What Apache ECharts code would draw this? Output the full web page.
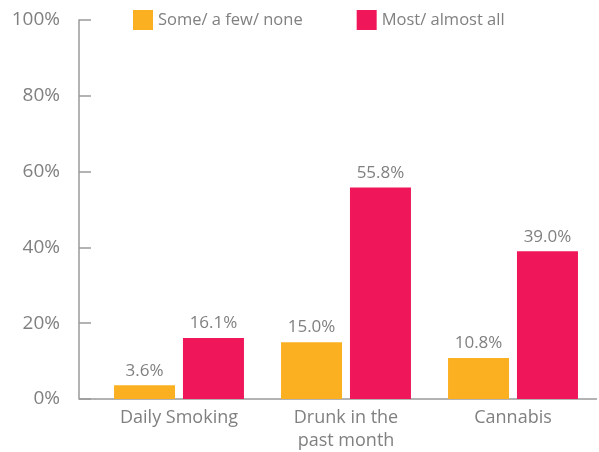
<!DOCTYPE html>
<html>
<head>
<meta charset="utf-8">
<script src="https://cdn.jsdelivr.net/npm/echarts@6/dist/echarts.min.js"></script>
<style>
  html, body { margin: 0; padding: 0; background: #fff; }
  #chart { width: 599px; height: 452px; }
</style>
</head>
<body>
<div id="chart"></div>
<script>
// Share of young people by how many of their friends do the same
const categories = ['Daily Smoking', 'Drunk in the\npast month', 'Cannabis'];
const seriesNames = ['Some/ a few/ none', 'Most/ almost all'];
const someFewNone = [3.6, 15.0, 10.8];
const mostAlmostAll = [16.1, 55.8, 39.0];
const yTicks = [0, 20, 40, 60, 80, 100];

const FONT = 'Open Sans';
const TEXT = '#808080';
const AXIS = '#9a9a9a';
const GRID_LEFT = 95.5;
const GRID_RIGHT = 2.5;
const AXIS_OFFSET = 16.5;

const chart = echarts.init(document.getElementById('chart'));

const labelStyle = {
  show: true,
  position: 'top',
  distance: 6,
  color: TEXT,
  fontFamily: FONT,
  fontSize: 17,
  formatter: p => p.value.toFixed(1) + '%'
};

chart.setOption({
  animation: false,
  textStyle: { fontFamily: FONT },
  legend: {
    top: 10,
    left: 133,
    padding: 0,
    itemWidth: 20,
    itemHeight: 20,
    itemGap: 54,
    icon: 'rect',
    textStyle: { color: TEXT, fontSize: 16.5, fontFamily: FONT },
    data: seriesNames
  },
  grid: { left: GRID_LEFT, right: GRID_RIGHT, top: 20, bottom: 51 },
  xAxis: {
    type: 'category',
    data: categories,
    axisLine: { show: true, lineStyle: { color: AXIS, width: 1.5 } },
    axisTick: { show: false },
    axisLabel: { color: TEXT, fontSize: 18, fontFamily: FONT, margin: 7, lineHeight: 23 }
  },
  yAxis: {
    type: 'value',
    min: yTicks[0],
    max: yTicks[yTicks.length - 1],
    interval: 20,
    offset: AXIS_OFFSET,
    axisLine: { show: true, lineStyle: { color: AXIS, width: 1.5 } },
    axisTick: { show: true, inside: true, length: 12, lineStyle: { color: AXIS, width: 1.5 } },
    splitLine: { show: false },
    axisLabel: { color: TEXT, fontSize: 19, fontFamily: FONT, margin: 19, formatter: v => v + '%' }
  },
  series: [
    {
      name: seriesNames[0],
      type: 'bar',
      data: someFewNone,
      barWidth: 61,
      barGap: '13%',
      itemStyle: { color: '#FBB022' },
      label: labelStyle
    },
    {
      name: seriesNames[1],
      type: 'bar',
      data: mostAlmostAll,
      barWidth: 61,
      barGap: '13%',
      itemStyle: { color: '#EF1659' },
      label: labelStyle
    }
  ]
});

// Extend the baseline left so it meets the offset value axis
const base = chart.convertToPixel({ yAxisIndex: 0 }, 0);
chart.setOption({
  graphic: [{
    type: 'line',
    shape: { x1: GRID_LEFT - AXIS_OFFSET, y1: base, x2: GRID_LEFT, y2: base },
    style: { stroke: AXIS, lineWidth: 1.5 },
    silent: true
  }]
});
</script>
</body>
</html>
